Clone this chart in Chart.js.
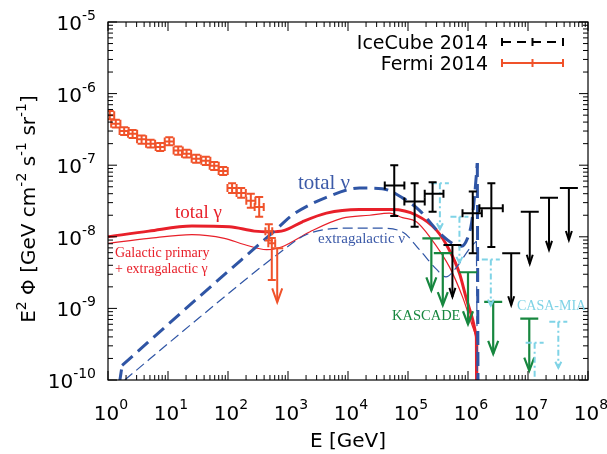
<!DOCTYPE html>
<html>
<head>
<meta charset="utf-8">
<script src="https://cdn.jsdelivr.net/npm/chart.js@4.4.1/dist/chart.umd.min.js"></script>
<style>
  html, body { margin: 0; padding: 0; background: #fff; }
  canvas { display: block; }
</style>
</head>
<body>
<canvas id="fluxChart" width="607" height="454"></canvas>
<script>
// values: E in GeV, E^2 Phi in GeV cm^-2 s^-1 sr^-1

// model curves
const gammaTotalE    = [1, 4.8, 25, 105, 275, 490, 870, 1740, 4370, 1.55e4, 5.5e4, 1.38e5, 3.0e5, 4.9e5, 7.2e5, 9.5e5, 1.2e6, 1.38e6, 1.40e6];
const gammaTotalFlux = [1.0e-8, 1.2e-8, 1.41e-8, 1.38e-8, 1.2e-8, 1.17e-8, 1.23e-8, 1.62e-8, 2.14e-8, 2.4e-8, 2.4e-8, 2.0e-8, 1.23e-8, 6.5e-9, 3.1e-9, 1.32e-9, 6.9e-10, 4.0e-10, 1e-11];

const gammaGalE    = [1, 4.8, 25, 87, 186, 440, 780, 2290, 8100, 2.3e4, 4.9e4, 8.1e4, 1.38e5, 2.3e5, 4.9e5, 8.1e5, 1.2e6, 1.38e6, 1.40e6];
const gammaGalFlux = [8.1e-9, 9.5e-9, 1.07e-8, 9.5e-9, 7.8e-9, 6.6e-9, 7.2e-9, 1.17e-8, 1.82e-8, 2.0e-8, 2.14e-8, 1.85e-8, 1.62e-8, 1.0e-8, 3.8e-9, 1.45e-9, 5.5e-10, 4.0e-10, 1e-11];

const nuTotalE    = [1.55, 1.72, 33, 710, 1170, 4370, 1.55e4, 3.7e4, 8.1e4, 1.55e5, 3.4e5, 5.5e5, 7.8e5, 9.8e5, 1.15e6, 1.29e6, 1.43e6, 1.48e6];
const nuTotalFlux = [9e-11, 1.6e-10, 1.45e-9, 1.38e-8, 2.0e-8, 3.55e-8, 4.8e-8, 4.7e-8, 3.5e-8, 2.34e-8, 1.12e-8, 8.1e-9, 7.4e-9, 9.5e-9, 1.58e-8, 3.8e-8, 1.07e-7, 1e-11];

const nuExtraE    = [1.9, 33, 710, 2000, 9300, 3.3e4, 8.1e4, 1.55e5, 3.0e5, 4.3e5, 6.5e5, 1.07e6, 1.38e6, 1.46e6];
const nuExtraFlux = [1.0e-10, 7.4e-10, 5.9e-9, 1.07e-8, 1.32e-8, 1.32e-8, 1.17e-8, 6.6e-9, 3.5e-9, 2.75e-9, 3.8e-9, 6.9e-9, 8.7e-9, 1e-11];

// Fermi 2014
const fermiE      = [1.07, 1.35, 1.86, 2.57, 3.63, 5.13, 7.41, 10.5, 14.8, 20.4, 29.5, 42.7, 58.9, 83.2, 117, 166, 240, 331, 479, 537];
const fermiEmin   = [0.90, 1.13, 1.56, 2.16, 3.05, 4.31, 6.23, 8.82, 12.4, 17.1, 24.8, 35.9, 49.5, 69.9, 98, 139, 202, 278, 420, 470];
const fermiEmax   = [1.27, 1.61, 2.21, 3.06, 4.32, 6.1, 8.82, 12.5, 17.6, 24.3, 35.1, 50.8, 70.1, 99, 139, 198, 286, 394, 546, 612];
const fermiFlux   = [5.0e-7, 3.8e-7, 3.0e-7, 2.75e-7, 2.3e-7, 2.0e-7, 1.8e-7, 2.15e-7, 1.6e-7, 1.45e-7, 1.23e-7, 1.15e-7, 9.8e-8, 8.3e-8, 4.8e-8, 4.1e-8, 3.2e-8, 2.6e-8, 1.2e-8, 8.1e-9];
const fermiFluxLo = [4.4e-7, 3.35e-7, 2.65e-7, 2.4e-7, 2.0e-7, 1.76e-7, 1.58e-7, 1.9e-7, 1.4e-7, 1.28e-7, 1.08e-7, 1.01e-7, 8.6e-8, 7.3e-8, 4.1e-8, 3.5e-8, 2.55e-8, 1.9e-8, 8.9e-9, 2.5e-9];
const fermiFluxHi = [5.7e-7, 4.3e-7, 3.4e-7, 3.1e-7, 2.6e-7, 2.27e-7, 2.05e-7, 2.45e-7, 1.82e-7, 1.65e-7, 1.4e-7, 1.31e-7, 1.11e-7, 9.4e-8, 5.6e-8, 4.8e-8, 4.0e-8, 3.6e-8, 1.5e-8, 9.6e-9];
const fermiUlE    = [661];
const fermiUlFlux = [6.9e-9];

// IceCube 2014
const icecubeE      = [5.9e4, 1.29e5, 2.57e5, 1.2e6, 2.45e6];
const icecubeEmin   = [4.1e4, 8.7e4, 1.9e5, 8.1e5, 1.55e6];
const icecubeEmax   = [8.7e4, 1.9e5, 3.9e5, 1.7e6, 3.8e6];
const icecubeFlux   = [5.2e-8, 3.1e-8, 4.0e-8, 2.14e-8, 2.5e-8];
const icecubeFluxLo = [1.95e-8, 1.38e-8, 2.24e-8, 5.9e-9, 7.2e-9];
const icecubeFluxHi = [1.0e-7, 5.6e-8, 5.8e-8, 4.3e-8, 5.6e-8];
const icecubeUlE    = [5.5e5, 5.25e6, 1.07e7, 2.24e7, 4.8e7];
const icecubeUlFlux = [7.7e-9, 5.9e-9, 2.24e-8, 3.5e-8, 4.8e-8];

// KASCADE and CASA-MIA upper limits
const kascadeE  = [2.45e5, 3.8e5, 1.0e6, 2.63e6, 1.05e7];
const kascadeUl = [9.5e-9, 5.9e-9, 3.2e-9, 1.23e-9, 7.2e-10];
const casaE  = [3.4e5, 7.2e5, 2.4e6, 1.29e7, 3.2e7];
const casaUl = [5.6e-8, 1.9e-8, 4.8e-9, 3.3e-10, 6.5e-10];

// axis ticks (powers of ten)
const xTickExps = [0, 1, 2, 3, 4, 5, 6, 7, 8];
const yTickExps = [-10, -9, -8, -7, -6, -5];

const RED = '#e8202a';
const BLUE = '#2f55a5';
const FERMI = '#f0522a';
const GREEN = '#17873f';
const CYAN = '#7fd3e6';

function pts(xs, ys) {
    return xs.map((x, i) => ({ x: x, y: ys[i] }));
}

function drawRich(ctx, parts, x, y, align, size, supSize, raise) {
    let w = 0;
    parts.forEach(([t, sup]) => {
        ctx.font = (sup ? supSize : size) + 'px "DejaVu Sans"';
        w += ctx.measureText(t).width;
    });
    let cx = align === 'right' ? x - w : align === 'center' ? x - w / 2 : x;
    ctx.textAlign = 'left';
    ctx.textBaseline = 'alphabetic';
    parts.forEach(([t, sup]) => {
        ctx.font = (sup ? supSize : size) + 'px "DejaVu Sans"';
        ctx.fillText(t, cx, sup ? y - raise : y);
        cx += ctx.measureText(t).width;
    });
}

function crossBar(ctx, x, y, x0, x1, yTop, yBot, color, lw, cap) {
    ctx.strokeStyle = color;
    ctx.lineWidth = lw;
    ctx.setLineDash([]);
    ctx.beginPath();
    ctx.moveTo(x0, y); ctx.lineTo(x1, y);
    ctx.moveTo(x0, y - cap); ctx.lineTo(x0, y + cap);
    ctx.moveTo(x1, y - cap); ctx.lineTo(x1, y + cap);
    ctx.moveTo(x, yTop); ctx.lineTo(x, yBot);
    ctx.moveTo(x - cap, yTop); ctx.lineTo(x + cap, yTop);
    ctx.moveTo(x - cap, yBot); ctx.lineTo(x + cap, yBot);
    ctx.stroke();
}

function upperLimit(ctx, x, y, s) {
    ctx.strokeStyle = s.color;
    ctx.lineWidth = s.lw;
    ctx.setLineDash(s.dash || []);
    ctx.beginPath();
    ctx.moveTo(x - s.cap, y); ctx.lineTo(x + s.cap, y);
    ctx.moveTo(x, y); ctx.lineTo(x, y + s.len);
    ctx.stroke();
    ctx.setLineDash([]);
    ctx.beginPath();
    ctx.moveTo(x - s.head, y + s.len - s.headLen);
    ctx.lineTo(x, y + s.len);
    ctx.lineTo(x + s.head, y + s.len - s.headLen);
    ctx.stroke();
}

const decorPlugin = {
    id: 'decor',
    beforeDraw(chart) {
        const ctx = chart.ctx;
        ctx.save();
        ctx.fillStyle = '#fff';
        ctx.fillRect(0, 0, chart.width, chart.height);
        ctx.restore();
    },
    afterDatasetsDraw(chart) {
        const { ctx, chartArea: area, scales } = chart;
        const px = v => scales.x.getPixelForValue(v);
        const py = v => scales.y.getPixelForValue(v);

        ctx.save();
        ctx.beginPath();
        ctx.rect(area.left, area.top, area.width, area.height);
        ctx.clip();

        // Fermi points
        fermiE.forEach((e, i) => {
            crossBar(ctx, px(e), py(fermiFlux[i]), px(fermiEmin[i]), px(fermiEmax[i]),
                py(fermiFluxHi[i]), py(fermiFluxLo[i]), FERMI, 2, 4);
        });
        fermiUlE.forEach((e, i) => {
            upperLimit(ctx, px(e), py(fermiUlFlux[i]),
                { color: FERMI, lw: 2, cap: 6, len: 54, head: 5, headLen: 14 });
        });

        // KASCADE
        kascadeE.forEach((e, i) => {
            upperLimit(ctx, px(e), py(kascadeUl[i]),
                { color: GREEN, lw: 2.2, cap: 9, len: 52, head: 5, headLen: 13 });
        });

        // CASA-MIA
        casaE.forEach((e, i) => {
            upperLimit(ctx, px(e), py(casaUl[i]),
                { color: CYAN, lw: 2, cap: 9, len: 46, head: 3, headLen: 6, dash: [6, 3, 2, 3] });
        });

        // IceCube
        icecubeE.forEach((e, i) => {
            crossBar(ctx, px(e), py(icecubeFlux[i]), px(icecubeEmin[i]), px(icecubeEmax[i]),
                py(icecubeFluxHi[i]), py(icecubeFluxLo[i]), '#000', 2, 4);
        });
        icecubeUlE.forEach((e, i) => {
            upperLimit(ctx, px(e), py(icecubeUlFlux[i]),
                { color: '#000', lw: 2, cap: 9, len: 52, head: 3, headLen: 9 });
        });
        ctx.restore();

        ctx.save();
        // frame and inward ticks
        ctx.strokeStyle = '#000';
        ctx.lineWidth = 1.2;
        ctx.strokeRect(area.left, area.top, area.width, area.height);
        ctx.lineWidth = 1;
        ctx.beginPath();
        xTickExps.forEach(n => {
            const x = px(Math.pow(10, n));
            ctx.moveTo(x, area.bottom); ctx.lineTo(x, area.bottom - 9);
            ctx.moveTo(x, area.top); ctx.lineTo(x, area.top + 9);
            if (n < 8) {
                for (let m = 2; m <= 9; m++) {
                    const xm = px(m * Math.pow(10, n));
                    ctx.moveTo(xm, area.bottom); ctx.lineTo(xm, area.bottom - 5);
                    ctx.moveTo(xm, area.top); ctx.lineTo(xm, area.top + 5);
                }
            }
        });
        yTickExps.forEach(n => {
            const y = py(Math.pow(10, n));
            ctx.moveTo(area.left, y); ctx.lineTo(area.left + 9, y);
            ctx.moveTo(area.right, y); ctx.lineTo(area.right - 9, y);
            if (n < -5) {
                for (let m = 2; m <= 9; m++) {
                    const ym = py(m * Math.pow(10, n));
                    ctx.moveTo(area.left, ym); ctx.lineTo(area.left + 5, ym);
                    ctx.moveTo(area.right, ym); ctx.lineTo(area.right - 5, ym);
                }
            }
        });
        ctx.stroke();

        // tick labels
        ctx.fillStyle = '#000';
        xTickExps.forEach(n => {
            drawRich(ctx, [['10', false], [String(n), true]], px(Math.pow(10, n)) + 3, area.bottom + 40, 'center', 20, 14, 11);
        });
        yTickExps.forEach(n => {
            drawRich(ctx, [['10', false], [String(n), true]], 96, py(Math.pow(10, n)) + 8, 'right', 20, 14, 10);
        });

        // axis titles
        ctx.font = '20px "DejaVu Sans"';
        ctx.textAlign = 'center';
        ctx.fillText('E [GeV]', (area.left + area.right) / 2, 447);
        ctx.save();
        ctx.translate(35, 209);
        ctx.rotate(-Math.PI / 2);
        drawRich(ctx, [['E', false], ['2', true], [' Φ [GeV cm', false], ['-2', true], [' s', false],
            ['-1', true], [' sr', false], ['-1', true], [']', false]], 0, 0, 'center', 20, 14, 9);
        ctx.restore();

        // legend
        ctx.font = '19px "DejaVu Sans"';
        ctx.textAlign = 'right';
        ctx.fillStyle = '#000';
        ctx.fillText('IceCube 2014', 488, 49);
        ctx.fillText('Fermi 2014', 488, 70);
        [[42, '#000', [9, 6]], [63, FERMI, []]].forEach(([ly, col, dash]) => {
            ctx.strokeStyle = col;
            ctx.lineWidth = 2;
            ctx.setLineDash(dash);
            ctx.beginPath();
            ctx.moveTo(502, ly); ctx.lineTo(563, ly);
            ctx.stroke();
            ctx.setLineDash([]);
            ctx.beginPath();
            [502, 532.5, 563].forEach(lx => { ctx.moveTo(lx, ly - 4); ctx.lineTo(lx, ly + 4); });
            ctx.stroke();
        });

        // curve annotations
        ctx.textAlign = 'left';
        ctx.fillStyle = RED;
        ctx.font = '19px "Liberation Serif"';
        ctx.fillText('total γ', 175, 218);
        ctx.font = '14px "Liberation Serif"';
        ctx.fillText('Galactic primary', 115, 257);
        ctx.fillText('+ extragalactic γ', 115, 273);
        ctx.fillStyle = '#3c5aa8';
        ctx.font = '21px "Liberation Serif"';
        ctx.fillText('total ν', 298, 189);
        ctx.font = '15px "Liberation Serif"';
        ctx.fillText('extragalactic ν', 318, 243);
        ctx.fillStyle = GREEN;
        ctx.font = '14.5px "Liberation Serif"';
        ctx.fillText('KASCADE', 392, 320);
        ctx.fillStyle = CYAN;
        ctx.font = '14px "Liberation Serif"';
        ctx.fillText('CASA-MIA', 517, 310);
        ctx.restore();
    }
};

const curveStyle = (color, width, dash, smooth) => ({
    showLine: true,
    borderColor: color,
    borderWidth: width,
    borderDash: dash,
    pointRadius: 0,
    tension: 0,
    cubicInterpolationMode: smooth ? 'monotone' : 'default'
});

const ctx = document.getElementById('fluxChart').getContext('2d');
const fluxChart = new Chart(ctx, {
    type: 'scatter',
    data: {
        datasets: [
            // steep rise of total nu from the bottom edge, drawn straight
            Object.assign({ label: 'total ν (rise)', data: pts(nuTotalE.slice(0, 2), nuTotalFlux.slice(0, 2)) },
                curveStyle(BLUE, 3, [14, 7], false)),
            Object.assign({ label: 'total ν', data: pts(nuTotalE.slice(1, -1), nuTotalFlux.slice(1, -1)) },
                curveStyle(BLUE, 3, [14, 7], true)),
            Object.assign({ label: 'total ν (drop)', data: pts(nuTotalE.slice(-2), nuTotalFlux.slice(-2)) },
                curveStyle(BLUE, 3, [14, 7], false)),
            Object.assign({ label: 'extragalactic ν', data: pts(nuExtraE.slice(0, -1), nuExtraFlux.slice(0, -1)) },
                curveStyle(BLUE, 1.2, [10, 5], true)),
            Object.assign({ label: 'extragalactic ν (drop)', data: pts(nuExtraE.slice(-2), nuExtraFlux.slice(-2)) },
                curveStyle(BLUE, 1.2, [10, 5], false)),
            Object.assign({ label: 'Galactic primary + extragalactic γ', data: pts(gammaGalE.slice(0, -1), gammaGalFlux.slice(0, -1)) },
                curveStyle(RED, 1.2, [], true)),
            Object.assign({ label: 'Galactic primary (drop)', data: pts(gammaGalE.slice(-2), gammaGalFlux.slice(-2)) },
                curveStyle(RED, 1.2, [], false)),
            Object.assign({ label: 'total γ', data: pts(gammaTotalE.slice(0, -1), gammaTotalFlux.slice(0, -1)) },
                curveStyle(RED, 3, [], true)),
            Object.assign({ label: 'total γ (drop)', data: pts(gammaTotalE.slice(-2), gammaTotalFlux.slice(-2)) },
                curveStyle(RED, 3, [], false))
        ]
    },
    options: {
        responsive: false,
        animation: false,
        devicePixelRatio: 1,
        events: [],
        layout: { padding: { left: 108, right: 19, top: 22, bottom: 74 } },
        plugins: { legend: { display: false }, tooltip: { enabled: false } },
        scales: {
            x: { type: 'logarithmic', min: 1, max: 1e8, display: false },
            y: { type: 'logarithmic', min: 1e-10, max: 1e-5, display: false }
        }
    },
    plugins: [decorPlugin]
});
</script>
</body>
</html>
